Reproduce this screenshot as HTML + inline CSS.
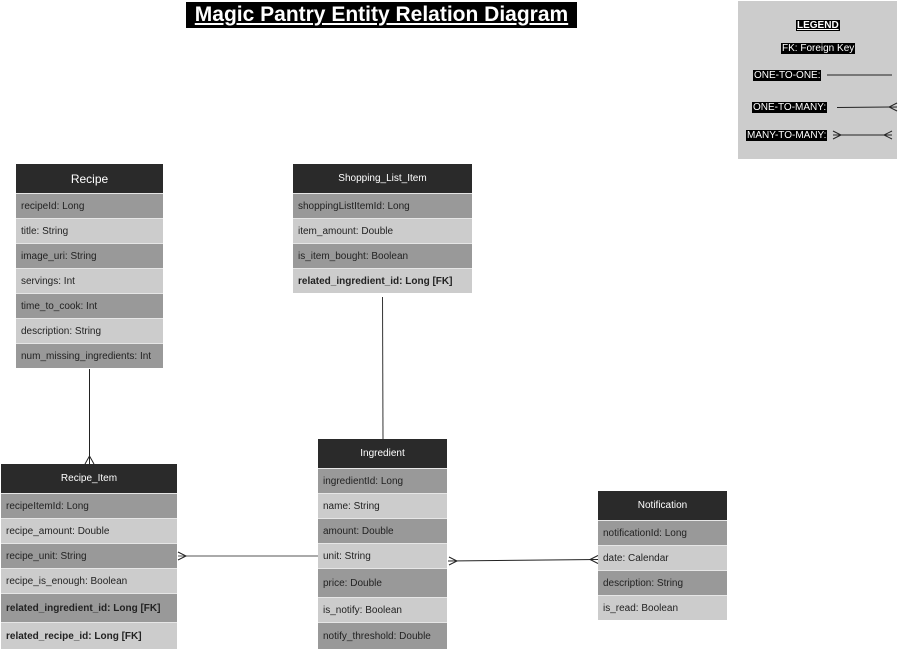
<!DOCTYPE html>
<html><head><meta charset="utf-8"><style>
body{margin:0;width:906px;height:649px;background:#fff;position:relative;overflow:hidden;font-family:"Liberation Sans",sans-serif;}
.t{position:absolute;}
.h{position:absolute;background:#2a2a2a;color:#fff;font-size:11px;display:flex;align-items:center;justify-content:center;}
.r{position:absolute;font-size:10px;color:#222;display:flex;align-items:center;padding-left:5px;box-sizing:border-box;border-top:1px solid #e6e6e6;}
.d{background:#999;}.l{background:#ccc;}
.b{font-weight:bold;}
.lg{position:absolute;background:#000;color:#fff;font-size:10px;line-height:11px;padding:0 1px;}
</style></head><body>
<div class="t" style="left:186px;top:2px;width:391px;height:26px;background:#000;color:#fff;font-weight:bold;font-size:21px;text-decoration:underline;text-align:center;line-height:26px;">Magic Pantry Entity Relation Diagram</div>

<div class="t" style="left:738px;top:1px;width:159px;height:158px;background:#ccc;"></div>
<div class="lg" style="left:796px;top:20px;font-weight:bold;text-decoration:underline;">LEGEND</div>
<div class="lg" style="left:781px;top:43px;">FK: Foreign Key</div>
<div class="lg" style="left:753px;top:70px;">ONE-TO-ONE:</div>
<div class="lg" style="left:752px;top:102px;">ONE-TO-MANY:</div>
<div class="lg" style="left:746px;top:130px;">MANY-TO-MANY:</div>

<!-- Recipe -->
<div class="h" style="left:16px;top:164px;width:147px;height:29px;font-size:12px;">Recipe</div>
<div class="r d" style="left:16px;top:193px;width:147px;height:25px;">recipeId: Long</div>
<div class="r l" style="left:16px;top:218px;width:147px;height:25px;">title: String</div>
<div class="r d" style="left:16px;top:243px;width:147px;height:25px;">image_uri: String</div>
<div class="r l" style="left:16px;top:268px;width:147px;height:25px;">servings: Int</div>
<div class="r d" style="left:16px;top:293px;width:147px;height:25px;">time_to_cook: Int</div>
<div class="r l" style="left:16px;top:318px;width:147px;height:25px;">description: String</div>
<div class="r d" style="left:16px;top:343px;width:147px;height:25px;">num_missing_ingredients: Int</div>

<!-- Shopping -->
<div class="h" style="left:293px;top:164px;width:179px;height:29px;font-size:10px;">Shopping_List_Item</div>
<div class="r d" style="left:293px;top:193px;width:179px;height:25px;">shoppingListItemId: Long</div>
<div class="r l" style="left:293px;top:218px;width:179px;height:25px;">item_amount: Double</div>
<div class="r d" style="left:293px;top:243px;width:179px;height:25px;">is_item_bought: Boolean</div>
<div class="r l b" style="left:293px;top:268px;width:179px;height:25px;">related_ingredient_id: Long [FK]</div>

<!-- Recipe_Item -->
<div class="h" style="left:1px;top:464px;width:176px;height:29px;font-size:10px;">Recipe_Item</div>
<div class="r d" style="left:1px;top:493px;width:176px;height:25px;">recipeItemId: Long</div>
<div class="r l" style="left:1px;top:518px;width:176px;height:25px;">recipe_amount: Double</div>
<div class="r d" style="left:1px;top:543px;width:176px;height:25px;">recipe_unit: String</div>
<div class="r l" style="left:1px;top:568px;width:176px;height:25px;">recipe_is_enough: Boolean</div>
<div class="r d b" style="left:1px;top:593px;width:176px;height:29px;">related_ingredient_id: Long [FK]</div>
<div class="r l b" style="left:1px;top:622px;width:176px;height:27px;">related_recipe_id: Long [FK]</div>

<!-- Ingredient -->
<div class="h" style="left:318px;top:439px;width:129px;height:29px;font-size:10px;">Ingredient</div>
<div class="r d" style="left:318px;top:468px;width:129px;height:25px;">ingredientId: Long</div>
<div class="r l" style="left:318px;top:493px;width:129px;height:25px;">name: String</div>
<div class="r d" style="left:318px;top:518px;width:129px;height:25px;">amount: Double</div>
<div class="r l" style="left:318px;top:543px;width:129px;height:25px;">unit: String</div>
<div class="r d" style="left:318px;top:568px;width:129px;height:29px;">price: Double</div>
<div class="r l" style="left:318px;top:597px;width:129px;height:25px;">is_notify: Boolean</div>
<div class="r d" style="left:318px;top:622px;width:129px;height:27px;">notify_threshold: Double</div>

<!-- Notification -->
<div class="h" style="left:598px;top:491px;width:129px;height:29px;font-size:10px;">Notification</div>
<div class="r d" style="left:598px;top:520px;width:129px;height:25px;">notificationId: Long</div>
<div class="r l" style="left:598px;top:545px;width:129px;height:25px;">date: Calendar</div>
<div class="r d" style="left:598px;top:570px;width:129px;height:25px;">description: String</div>
<div class="r l" style="left:598px;top:595px;width:129px;height:25px;">is_read: Boolean</div>

<svg class="t" style="left:0;top:0" width="906" height="649" fill="none" stroke="#222" stroke-width="1">
<line x1="827" y1="75" x2="892" y2="75"/>
<line x1="837" y1="107.5" x2="897" y2="107"/><path d="M897 103 L889 107 L897 111"/>
<line x1="833" y1="135" x2="892" y2="135"/><path d="M833 131 L841 135 L833 139"/><path d="M892 131 L884 135 L892 139"/>
<line x1="89.5" y1="369" x2="89.5" y2="464"/><path d="M85 464 L89.5 456 L94 464"/>
<line x1="382.5" y1="297" x2="383" y2="439" stroke="#333"/>
<line x1="178" y1="556" x2="318" y2="556" stroke="#555"/><path d="M178 552 L186 556 L178 560"/>
<line x1="448" y1="561" x2="598" y2="559.5"/><path d="M449 557 L457 561 L449 565"/><path d="M598 555.5 L590 559.5 L598 563.5"/>
</svg>
</body></html>
